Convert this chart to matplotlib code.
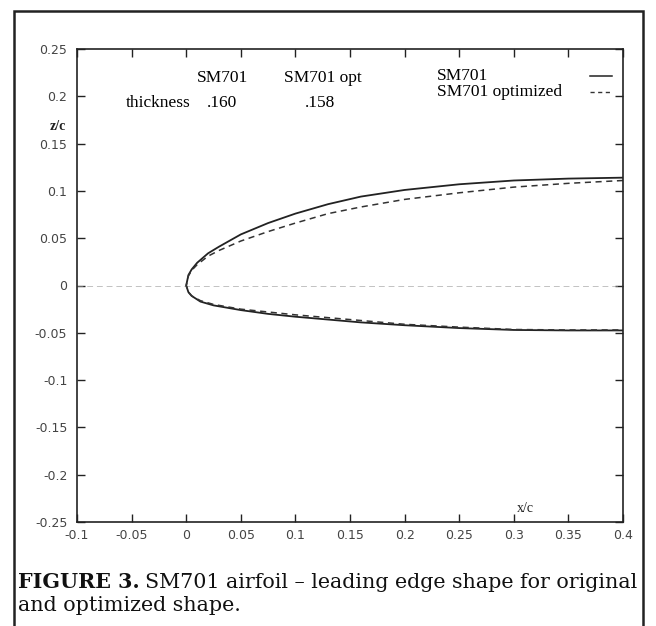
import matplotlib
matplotlib.use("Agg")
import matplotlib.pyplot as plt
from matplotlib.patches import Rectangle

# ---- data ----
upper_x = [0.0, 0.002, 0.005, 0.01, 0.02, 0.03, 0.05, 0.075, 0.1, 0.13, 0.16, 0.2, 0.25, 0.3, 0.35, 0.4]
orig_upper_z = [0.0, 0.011, 0.017, 0.024, 0.034, 0.041, 0.054, 0.066, 0.076, 0.086, 0.094, 0.101, 0.107, 0.111, 0.113, 0.114]
opt_upper_z = [0.0, 0.010, 0.016, 0.022, 0.031, 0.037, 0.047, 0.057, 0.066, 0.076, 0.083, 0.091, 0.098, 0.104, 0.108, 0.111]

lower_x = [0.0, 0.002, 0.005, 0.013, 0.025, 0.05, 0.075, 0.1, 0.13, 0.16, 0.2, 0.25, 0.3, 0.35, 0.4]
orig_lower_z = [0.0, -0.007, -0.011, -0.017, -0.021, -0.026, -0.030, -0.033, -0.036, -0.039, -0.042, -0.045, -0.047, -0.0475, -0.0475]
opt_lower_z = [0.0, -0.007, -0.011, -0.016, -0.020, -0.025, -0.028, -0.031, -0.034, -0.037, -0.041, -0.044, -0.0465, -0.047, -0.047]

xticks = [-0.1, -0.05, 0, 0.05, 0.1, 0.15, 0.2, 0.25, 0.3, 0.35, 0.4]
xtick_labels = ["-0.1", "-0.05", "0", "0.05", "0.1", "0.15", "0.2", "0.25", "0.3", "0.35", "0.4"]
yticks = [-0.25, -0.2, -0.15, -0.1, -0.05, 0, 0.05, 0.1, 0.15, 0.2, 0.25]
ytick_labels = ["-0.25", "-0.2", "-0.15", "-0.1", "-0.05", "0", "0.05", "0.1", "0.15", "0.2", "0.25"]

series_names = ["SM701", "SM701 optimized"]
thickness_header = ["SM701", "SM701 opt"]
thickness_values = [".160", ".158"]

# ---- figure ----
W, H = 656, 626
fig = plt.figure(figsize=(W / 100, H / 100), dpi=100)
fig.patch.set_facecolor("white")

# outer frame
fig.patches.append(Rectangle((14 / W, -0.05), (643 - 14) / W, 1.05 - 11 / H,
                             transform=fig.transFigure, fill=False,
                             edgecolor="#222222", linewidth=1.8))

ax = fig.add_axes([77 / W, 1 - 522 / H, (623 - 77) / W, (522 - 49) / H])
ax.set_xlim(-0.1, 0.4)
ax.set_ylim(-0.25, 0.25)

serif = "Liberation Serif"
cap_serif = "DejaVu Serif"
sans = "DejaVu Sans"
fs_txt = 12.5

# chord / reference line
ax.plot([-0.1, 0.4], [0, 0], color="#999999", lw=0.7, ls=(0, (6, 4)), alpha=0.6)

# original (solid)
xs_o = upper_x[::-1] + lower_x[1:]
zs_o = orig_upper_z[::-1] + orig_lower_z[1:]
ax.plot(xs_o, zs_o, color="#222222", lw=1.3)
# optimized (dashed)
zs_p = opt_upper_z[::-1] + opt_lower_z[1:]
ax.plot(xs_o, zs_p, color="#333333", lw=1.1, ls=(0, (4, 3)))

# ticks
ax.set_xticks(xticks)
ax.set_xticklabels(xtick_labels, fontfamily=sans, fontsize=9, color="#444444")
ax.set_yticks(yticks)
ax.set_yticklabels(ytick_labels, fontfamily=sans, fontsize=9, color="#444444")
ax.tick_params(axis="both", direction="in", length=6, width=1, color="#222222",
               top=True, right=True)
ax.tick_params(axis="x", pad=5)
ax.tick_params(axis="y", pad=7)
for s in ax.spines.values():
    s.set_linewidth(1.2)
    s.set_color("#222222")

# thickness table
ax.text(0.266, 0.939, thickness_header[0], transform=ax.transAxes, ha="center", va="center",
        fontfamily=serif, fontsize=fs_txt)
ax.text(0.45, 0.939, thickness_header[1], transform=ax.transAxes, ha="center", va="center",
        fontfamily=serif, fontsize=fs_txt)
ax.text(0.148, 0.886, "thickness", transform=ax.transAxes, ha="center", va="center",
        fontfamily=serif, fontsize=fs_txt)
ax.text(0.266, 0.886, thickness_values[0], transform=ax.transAxes, ha="center", va="center",
        fontfamily=serif, fontsize=fs_txt)
ax.text(0.445, 0.886, thickness_values[1], transform=ax.transAxes, ha="center", va="center",
        fontfamily=serif, fontsize=fs_txt)

# legend (manual, as in the reference)
ax.text(0.659, 0.943, series_names[0], transform=ax.transAxes, ha="left", va="center",
        fontfamily=serif, fontsize=fs_txt)
ax.text(0.659, 0.909, series_names[1], transform=ax.transAxes, ha="left", va="center",
        fontfamily=serif, fontsize=fs_txt)
ax.plot([0.94, 0.98], [0.943, 0.943], transform=ax.transAxes, color="#222222", lw=1.1)
ax.plot([0.94, 0.98], [0.909, 0.909], transform=ax.transAxes, color="#333333", lw=1.0,
        ls=(0, (3, 2.5)))

# axis labels
ax.text(0.822, 0.015, "x/c", transform=ax.transAxes, ha="center", va="bottom",
        fontfamily=serif, fontsize=10, color="#222222")
fig.text(58 / W, 1 - 126 / H, "z/c", ha="center", va="center",
         fontfamily=serif, fontsize=10, fontweight="bold", color="#222222")

# caption
cap_y1 = 1 - 588 / H
cap_y2 = 1 - 611 / H
cap_fs = 13.5
t1 = fig.text(18 / W, cap_y1, "FIGURE 3.", ha="left", va="baseline",
              fontfamily=cap_serif, fontsize=cap_fs, fontweight="bold", color="#111111")
fig.canvas.draw()
rend = fig.canvas.get_renderer()
bb = t1.get_window_extent(renderer=rend)
t2 = fig.text((bb.x1 + 5) / W, cap_y1, "SM701 airfoil \u2013 leading edge shape for original",
              ha="left", va="baseline", fontfamily=cap_serif, fontsize=cap_fs, color="#111111")
fig.canvas.draw()
bb2 = t2.get_window_extent(renderer=rend)
# fit first caption line to the reference width (right edge about 635 px)
scale = (635 - 18) / (bb2.x1 - 18)
cap_fs2 = cap_fs * scale
t1.set_fontsize(cap_fs2)
fig.canvas.draw()
bb = t1.get_window_extent(renderer=rend)
t2.set_fontsize(cap_fs2)
t2.set_x((bb.x1 + 5 * scale) / W)
fig.text(18 / W, cap_y2, "and optimized shape.", ha="left", va="baseline",
         fontfamily=cap_serif, fontsize=cap_fs2, color="#111111")

fig.savefig("out.png", dpi=100, facecolor="white")
